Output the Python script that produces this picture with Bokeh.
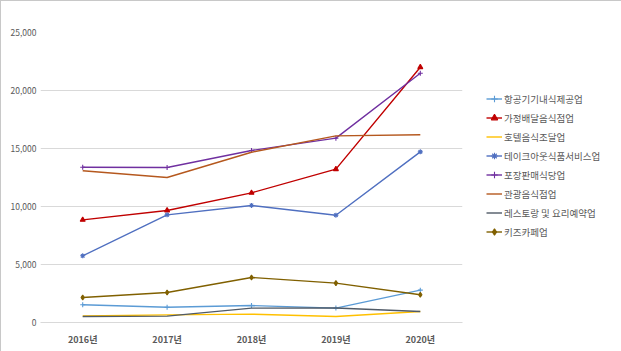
from bokeh.plotting import figure
from bokeh.models import FactorRange, Range1d, Legend, LegendItem, NumeralTickFormatter
from bokeh.embed import file_html
from bokeh.resources import INLINE

years = ["2016년", "2017년", "2018년", "2019년", "2020년"]

names = ["항공기기내식제공업", "가정배달음식점업", "호텔음식조달업", "테이크아웃식품서비스업",
         "포장판매식당업", "관광음식점업", "레스토랑 및 요리예약업", "키즈카페업"]

airline = [1530, 1320, 1460, 1240, 2790]
delivery = [8850, 9660, 11180, 13220, 22010]
hotel = [560, 660, 720, 520, 950]
takeout = [5750, 9280, 10090, 9250, 14710]
packaged = [13390, 13360, 14830, 15890, 21490]
tourist = [13080, 12500, 14680, 16090, 16180]
restaurant = [520, 550, 1240, 1250, 950]
kidscafe = [2160, 2590, 3880, 3390, 2390]

series = [airline, delivery, hotel, takeout, packaged, tourist, restaurant, kidscafe]
colors = ["#5B9BD5", "#C00000", "#FFC000", "#4F6FC0", "#7030A0", "#B5581E", "#505A66", "#806000"]
markers = ["cross", "triangle", None, "asterisk", "cross", None, None, "diamond"]
msizes = [5, 5, 0, 5, 5, 0, 0, 5]

FONT = "Noto Sans CJK KR"

p = figure(x_range=FactorRange(*years), y_range=Range1d(0, 25000),
           frame_width=422, frame_height=290,
           min_border_left=39, min_border_right=0, min_border_top=31, min_border_bottom=30,
           output_backend="svg", toolbar_location=None)
p.styles = {"border": "1px solid #C8C8C8", "box-sizing": "border-box"}
p.outline_line_color = None
p.background_fill_color = "white"
p.border_fill_color = "white"

p.xgrid.grid_line_color = None
p.ygrid.grid_line_color = "#D9D9D9"
p.ygrid.grid_line_width = 1.2

p.yaxis.ticker = [0, 5000, 10000, 15000, 20000, 25000]
p.yaxis.formatter = NumeralTickFormatter(format="0,0")
p.yaxis.axis_line_color = None
p.yaxis.major_tick_line_color = None
p.yaxis.minor_tick_line_color = None
p.yaxis.major_tick_in = 0
p.yaxis.major_tick_out = 0
p.yaxis.major_label_standoff = 4
p.yaxis.major_label_text_font = FONT
p.yaxis.major_label_text_font_size = "8.5px"
p.yaxis.major_label_text_color = "#595959"

p.xaxis.axis_line_color = "#D9D9D9"
p.xaxis.axis_line_width = 1.2
p.xaxis.major_tick_line_color = None
p.xaxis.minor_tick_line_color = None
p.xaxis.major_tick_in = 0
p.xaxis.major_tick_out = 0
p.xaxis.major_label_standoff = 10
p.xaxis.major_label_text_font = FONT
p.xaxis.major_label_text_font_size = "9px"
p.xaxis.major_label_text_font_style = "bold"
p.xaxis.major_label_text_color = "#595959"

items = []
for name, vals, c, m, ms in zip(names, series, colors, markers, msizes):
    r = p.line(years, vals, line_color=c, line_width=1.4)
    rs = [r]
    if m is not None:
        s = p.scatter(years, vals, marker=m, size=ms, line_color=c, fill_color=c, line_width=1.1)
        rs.append(s)
    items.append(LegendItem(label=name, renderers=rs))

legend = Legend(items=items, location=(24, 81))
legend.label_text_font = FONT
legend.label_text_font_size = "9.5px"
legend.label_text_color = "#595959"
legend.label_height = 19
legend.glyph_height = 19
legend.glyph_width = 16
legend.label_standoff = 2
legend.spacing = 0
legend.padding = 0
legend.margin = 0
legend.border_line_color = None
legend.background_fill_alpha = 0
p.add_layout(legend, "right")
p.min_border_right = 160

open("out.html", "w").write(file_html(p, INLINE))
